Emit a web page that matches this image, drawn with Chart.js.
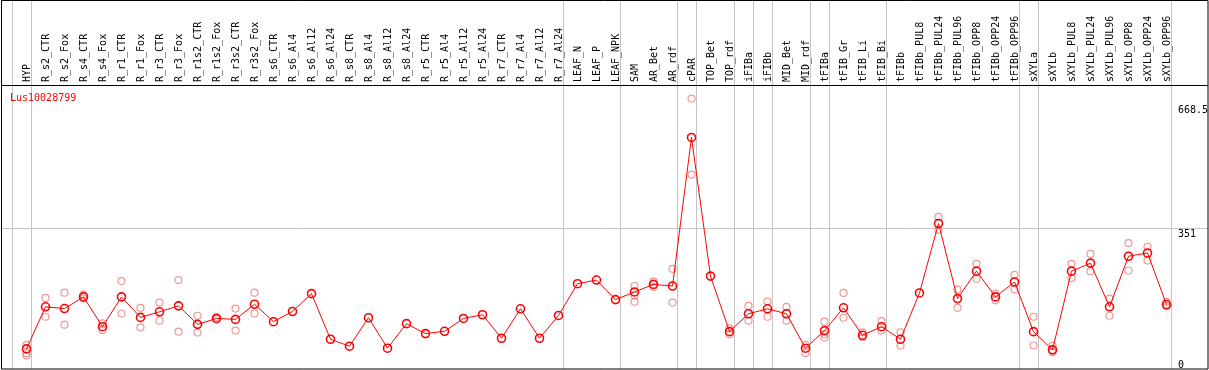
<!DOCTYPE html>
<html>
<head>
<meta charset="utf-8">
<script src="https://cdn.jsdelivr.net/npm/chart.js@4.4.1/dist/chart.umd.min.js"></script>
<style>
  body { margin: 0; background: #fff; }
  #wrap { width: 1209px; height: 370px; position: relative; }
</style>
</head>
<body>
<div id="wrap"><canvas id="lineChart"></canvas></div>
<script>
var geneId = 'Lus10028799';

var categories = [
  'HYP', 'R_s2_CTR', 'R_s2_Fox', 'R_s4_CTR', 'R_s4_Fox', 'R_r1_CTR', 'R_r1_Fox', 'R_r3_CTR', 'R_r3_Fox',
  'R_r1s2_CTR', 'R_r1s2_Fox', 'R_r3s2_CTR', 'R_r3s2_Fox', 'R_s6_CTR', 'R_s6_Al4', 'R_s6_Al12', 'R_s6_Al24',
  'R_s8_CTR', 'R_s8_Al4', 'R_s8_Al12', 'R_s8_Al24', 'R_r5_CTR', 'R_r5_Al4', 'R_r5_Al12', 'R_r5_Al24',
  'R_r7_CTR', 'R_r7_Al4', 'R_r7_Al12', 'R_r7_Al24', 'LEAF_N', 'LEAF_P', 'LEAF_NPK', 'SAM', 'AR_Bet', 'AR_rdf',
  'cPAR', 'TOP_Bet', 'TOP_rdf', 'iFIBa', 'iFIBb', 'MID_Bet', 'MID_rdf', 'tFIBa', 'tFIB_Gr', 'tFIB_Li', 'tFIB_Bi',
  'tFIBb', 'tFIBb_PUL8', 'tFIBb_PUL24', 'tFIBb_PUL96', 'tFIBb_OPP8', 'tFIBb_OPP24', 'tFIBb_OPP96',
  'sXYLa', 'sXYLb', 'sXYLb_PUL8', 'sXYLb_PUL24', 'sXYLb_PUL96', 'sXYLb_OPP8', 'sXYLb_OPP24', 'sXYLb_OPP96'
];

// mean expression per sample
var meanVals = [
  52.0, 155.6, 151.4, 180.0, 106.7, 180.0, 129.5, 143.4, 158.0, 112.4,
  127.0, 124.6, 161.9, 119.0, 144.1, 188.1, 75.7, 58.6, 128.7, 53.7,
  114.1, 89.6, 95.3, 127.0, 136.1, 78.2, 150.7, 78.2, 134.3, 212.5,
  221.5, 173.4, 192.2, 210.8, 206.9, 572.8, 231.3, 94.5, 138.5, 150.7,
  138.5, 53.7, 97.0, 153.2, 85.5, 106.7, 75.7, 189.8, 360.8, 175.9,
  243.5, 180.0, 216.7, 94.5, 49.6, 243.5, 263.1, 155.6, 280.2, 288.2,
  161.2
];

// replicates (null = no replicate shown)
var rep1 = [
  61.8, 177.6, 190.5, 185.6, 114.8, 219.1, 153.2, 166.1, 221.5, 133.6,
  130.2, 151.4, 190.5, null, null, null, null, null, null, null,
  null, null, null, null, null, null, null, null, null, null,
  null, null, 206.9, 218.1, 249.1, 668.5, null, 102.6, 158.0, 168.5,
  155.6, 61.8, 119.0, 189.8, 92.8, 120.4, 92.8, null, 376.9, 197.8,
  261.4, 188.1, 234.5, 131.2, 59.4, 261.4, 285.8, 175.9, 312.7, 303.6,
  167.8
];
var rep2 = [
  41.5, 131.2, 111.6, 175.9, 98.4, 139.2, 105.0, 121.4, 94.5, 92.1,
  124.6, 97.0, 139.2, null, null, null, null, null, null, null,
  null, null, null, null, null, null, null, null, null, null,
  null, null, 167.8, 204.4, 166.1, 481.2, null, 87.9, 121.4, 131.2,
  121.4, 41.5, 87.9, 128.7, 80.6, 97.0, 60.3, null, 345.1, 153.2,
  224.7, 171.7, 198.6, 60.3, 44.0, 226.4, 243.5, 133.6, 245.0, 269.4,
  157.1
];
var rep3 = [
  35.9, null, null, null, null, null, null, null, null, null,
  null, null, null, null, null, null, null, null, null, null,
  null, null, null, null, null, null, null, null, null, null,
  null, null, 184.0, null, null, null, null, null, null, null,
  null, null, 79.9, null, null, null, null, null, null, null,
  null, null, null, null, null, null, null, null, null, null,
  null
];

var yTickVals = [0, 351, 668.5];
var yTickLabels = ['0', '351', '668.5'];
// separators drawn after these sample numbers (0 = before the first one)
var groupBreaks = [0, 1, 29, 32, 35, 36, 38, 39, 40, 42, 43, 46, 53, 54, 61];

var yMax = 668.5 * 1.05;
var monoFont = '"DejaVu Sans Mono", "Liberation Mono", monospace';

var framePlugin = {
  id: 'frame',
  beforeDatasetsDraw: function(chart) {
    var ctx = chart.ctx;
    var xs = chart.scales.x, ys = chart.scales.y;
    var W = chart.width, H = chart.height;
    var step = xs.getPixelForValue(1) - xs.getPixelForValue(0);
    ctx.save();
    ctx.strokeStyle = '#c4c4c4';
    ctx.lineWidth = 1;
    // horizontal mid line
    var ym = Math.round(ys.getPixelForValue(yMax / 2)) + 0.5;
    ctx.beginPath();
    ctx.moveTo(1, ym);
    ctx.lineTo(W - 1, ym);
    ctx.stroke();
    // group separators
    groupBreaks.forEach(function(k) {
      var x = Math.round(xs.getPixelForValue(0) + (k - 1) * step + 4) + 0.5;
      ctx.beginPath();
      ctx.moveTo(x, 0);
      ctx.lineTo(x, H - 1);
      ctx.stroke();
    });
    ctx.restore();
  },
  afterDraw: function(chart) {
    var ctx = chart.ctx;
    var ys = chart.scales.y;
    var area = chart.chartArea;
    var W = chart.width, H = chart.height;
    ctx.save();
    ctx.strokeStyle = '#000';
    ctx.lineWidth = 1;
    ctx.beginPath();
    ctx.rect(1.5, 0.5, W - 2.5, H - 1.5);
    ctx.moveTo(1, Math.round(area.top) + 0.5);
    ctx.lineTo(W - 1, Math.round(area.top) + 0.5);
    ctx.stroke();

    ctx.font = '10px ' + monoFont;
    ctx.textBaseline = 'top';
    ctx.textAlign = 'left';
    ctx.fillStyle = '#ff0000';
    ctx.fillText(geneId, 10, area.top + 8);

    ctx.fillStyle = '#000';
    yTickVals.forEach(function(v, i) {
      var y = ys.getPixelForValue(v) + 2;
      y = Math.max(area.top + 20, Math.min(H - 10, y));
      ctx.fillText(yTickLabels[i], 1178, y);
    });
    ctx.restore();
  }
};

var ctx = document.getElementById('lineChart');
var lineChart = new Chart(ctx, {
  type: 'line',
  data: {
    labels: categories,
    datasets: [{
      label: geneId,
      data: meanVals,
      borderColor: '#ff0000',
      borderWidth: 1,
      pointRadius: 4,
      pointBorderWidth: 1.6,
      pointBorderColor: '#ff0000',
      pointBackgroundColor: 'rgba(255,255,255,0)',
      tension: 0
    }, {
      label: 'rep1',
      data: rep1,
      showLine: false,
      pointRadius: 3.5,
      pointBorderWidth: 1.2,
      pointBorderColor: 'rgba(232,110,110,0.7)',
      pointBackgroundColor: 'rgba(255,255,255,0)'
    }, {
      label: 'rep2',
      data: rep2,
      showLine: false,
      pointRadius: 3.5,
      pointBorderWidth: 1.2,
      pointBorderColor: 'rgba(232,110,110,0.7)',
      pointBackgroundColor: 'rgba(255,255,255,0)'
    }, {
      label: 'rep3',
      data: rep3,
      showLine: false,
      pointRadius: 3.5,
      pointBorderWidth: 1.2,
      pointBorderColor: 'rgba(232,110,110,0.7)',
      pointBackgroundColor: 'rgba(255,255,255,0)'
    }]
  },
  options: {
    responsive: true,
    maintainAspectRatio: false,
    animation: false,
    layout: {
      autoPadding: false,
      padding: { left: 17, right: 33, top: 0, bottom: -2 }
    },
    plugins: {
      legend: { display: false },
      tooltip: { enabled: false },
      title: { display: false }
    },
    scales: {
      x: {
        type: 'category',
        position: 'top',
        offset: true,
        grid: { display: false, drawTicks: false },
        border: { display: false },
        ticks: {
          autoSkip: false,
          maxRotation: 90,
          minRotation: 90,
          padding: 3,
          labelOffset: 13,
          color: '#000',
          font: { family: monoFont, size: 10 }
        },
        afterFit: function(scale) { scale.height = 85; }
      },
      y: {
        display: false,
        min: 0,
        max: yMax
      }
    }
  },
  plugins: [framePlugin]
});
</script>
</body>
</html>
